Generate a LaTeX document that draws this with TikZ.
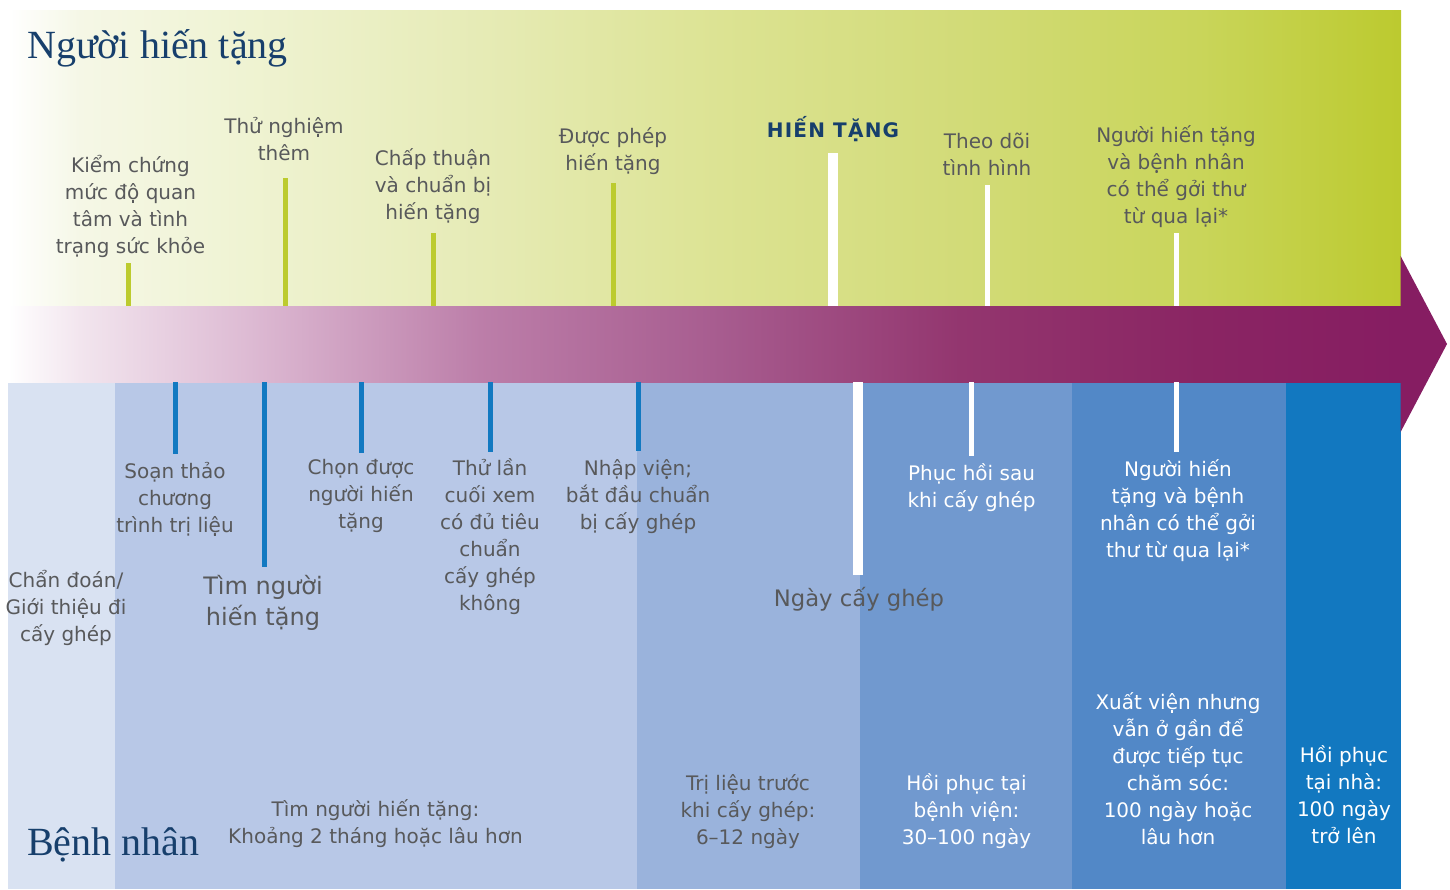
\documentclass[tikz,border=0pt]{standalone}
\usepackage{fontspec}
\setmainfont{DejaVu Sans}
\newfontfamily\titlefont{Liberation Serif}
\newfontfamily\spacedfont{DejaVu Sans}[LetterSpace=6]
\definecolor{txtgray}{HTML}{58595B}
\definecolor{navy}{HTML}{173F6C}
\definecolor{tickgreen}{HTML}{BCCB2E}
\definecolor{tickblue}{HTML}{1279C1}
\definecolor{colA}{HTML}{D9E2F2}
\definecolor{colB}{HTML}{B8C8E7}
\definecolor{colC}{HTML}{9AB3DC}
\definecolor{colD}{HTML}{7199CF}
\definecolor{colE}{HTML}{5288C7}
\definecolor{colF}{HTML}{1278C0}
\definecolor{gA}{HTML}{FFFFFF}
\definecolor{gB}{HTML}{F5F7E6}
\definecolor{gC}{HTML}{EFF3D2}
\definecolor{gD}{HTML}{E6EBB6}
\definecolor{gE}{HTML}{DCE393}
\definecolor{gF}{HTML}{D2DB78}
\definecolor{gG}{HTML}{C9D55A}
\definecolor{gH}{HTML}{BCCA2F}
\definecolor{pA}{HTML}{FFFFFF}
\definecolor{pB}{HTML}{F2E5EE}
\definecolor{pC}{HTML}{DDBAD3}
\definecolor{pD}{HTML}{BC7EA9}
\definecolor{pE}{HTML}{A75C8F}
\definecolor{pF}{HTML}{93366F}
\definecolor{pG}{HTML}{8A2563}
\definecolor{pH}{HTML}{861D62}
\tikzset{
  lbl/.style={font=\fontsize{20}{27}\selectfont, text=txtgray, align=center, inner sep=0pt, yshift=-2.5pt,
    execute at begin node={\rule{0pt}{20pt}}, execute at end node={\rule[-7pt]{0pt}{7pt}}},
  lblw/.style={lbl, text=white},
  biglbl/.style={font=\fontsize{24}{31}\selectfont, text=txtgray, align=center, inner sep=0pt, yshift=-1pt,
    execute at begin node={\rule{0pt}{23pt}}, execute at end node={\rule[-7pt]{0pt}{7pt}}},
  keylbl/.style={font=\spacedfont\bfseries\fontsize{20}{27}\selectfont, text=navy, inner sep=0pt, yshift=-1.5pt,
    execute at begin node={\rule{0pt}{20pt}}, execute at end node={\rule[-7pt]{0pt}{7pt}}},
  ttl/.style={font=\titlefont\fontsize{40}{44}\selectfont, text=navy, inner sep=0pt, anchor=base west},
  gtick/.style={draw=tickgreen, line width=5pt},
  btick/.style={draw=tickblue, line width=5pt},
  wtick/.style={draw=white, line width=5pt},
  wtickwide/.style={draw=white, line width=10pt},
  colbox/.style={fill=#1, draw=none},
}
\begin{document}
\begin{tikzpicture}[x=1pt,y=-1pt]
\useasboundingbox (0,0) rectangle (1450,889);
% top donor panel gradient
\foreach \xa/\xb/\ca/\cb in {8/80/gA/gB, 79.4/250/gB/gC, 249.4/480/gC/gD, 479.4/720/gD/gE, 719.4/960/gE/gF, 959.4/1200/gF/gG, 1199.4/1401/gG/gH}
  \shade[left color=\ca, right color=\cb] (\xa,10) rectangle (\xb,306);
% bottom patient columns
\fill[colbox=colA] (8,382) rectangle (115,889);
\fill[colbox=colB] (115,382) rectangle (637,889);
\fill[colbox=colC] (637,382) rectangle (860,889);
\fill[colbox=colD] (860,382) rectangle (1072,889);
\fill[colbox=colE] (1072,382) rectangle (1286,889);
\fill[colbox=colF] (1286,382) rectangle (1401,889);
% arrow band
\foreach \xa/\xb/\ca/\cb in {8/80/pA/pB, 79.4/250/pB/pC, 249.4/480/pC/pD, 479.4/720/pD/pE, 719.4/960/pE/pF, 959.4/1200/pF/pG, 1199.4/1401/pG/pH}
  \shade[left color=\ca, right color=\cb] (\xa,306) rectangle (\xb,382);
\fill[pH] (1400.6,256) -- (1447,344) -- (1400.6,432) -- cycle;
\coordinate (bandtop) at (0,306);
\coordinate (bandbot) at (0,382);
% titles
\node[ttl] (donor) at (27,58) {Người hiến tặng};
\node[ttl] (patient) at (27,855) {Bệnh nhân};
% top labels
\node[lbl] (k1) at (130.5,205) {Kiểm chứng\\mức độ quan\\tâm và tình\\trạng sức khỏe};
\node[lbl] (k2) at (284,140) {Thử nghiệm\\thêm};
\node[lbl] (k3) at (433,185) {Chấp thuận\\và chuẩn bị\\hiến tặng};
\node[lbl] (k4) at (613,150) {Được phép\\hiến tặng};
\node[keylbl] (k5) at (833,128.5) {HIẾN TẶNG};
\node[lbl] (k6) at (987,155) {Theo dõi\\tình hình};
\node[lbl] (k7) at (1176,176) {Người hiến tặng\\và bệnh nhân\\có thể gởi thư\\từ qua lại*};
% top ticks
\coordinate (t1) at (128,263);
\coordinate (t2) at (285,178);
\coordinate (t3) at (433,233);
\coordinate (t4) at (613,183);
\coordinate (t5) at (833,153);
\coordinate (t6) at (987,185);
\coordinate (t7) at (1176,233);
\draw[gtick] (t1) -- (t1 |- bandtop);
\draw[gtick] (t2) -- (t2 |- bandtop);
\draw[gtick] (t3) -- (t3 |- bandtop);
\draw[gtick] (t4) -- (t4 |- bandtop);
\draw[wtickwide] (t5) -- (t5 |- bandtop);
\draw[wtick] (t6) -- (t6 |- bandtop);
\draw[wtick] (t7) -- (t7 |- bandtop);
% bottom ticks
\coordinate (u1) at (175,454);
\coordinate (u2) at (264,567);
\coordinate (u3) at (361,453);
\coordinate (u4) at (490,452);
\coordinate (u5) at (638,451);
\coordinate (u6) at (858,575);
\coordinate (u7) at (971,456);
\coordinate (u8) at (1176,452);
\draw[btick] (u1 |- bandbot) -- (u1);
\draw[btick] (u2 |- bandbot) -- (u2);
\draw[btick] (u3 |- bandbot) -- (u3);
\draw[btick] (u4 |- bandbot) -- (u4);
\draw[btick] (u5 |- bandbot) -- (u5);
\draw[wtickwide] (u6 |- bandbot) -- (u6);
\draw[wtick] (u7 |- bandbot) -- (u7);
\draw[wtick] (u8 |- bandbot) -- (u8);
% bottom labels
\node[lbl] (b1) at (175,498) {Soạn thảo\\chương\\trình trị liệu};
\node[biglbl] (b2) at (263,602.5) {Tìm người\\hiến tặng};
\node[lbl] (b3) at (361,494.5) {Chọn được\\người hiến\\tặng};
\node[lbl] (b4) at (490,535.5) {Thử lần\\cuối xem\\có đủ tiêu\\chuẩn\\cấy ghép\\không};
\node[lbl] (b5) at (638,495) {Nhập viện;\\bắt đầu chuẩn\\bị cấy ghép};
\node[biglbl, font=\fontsize{22.7}{31}\selectfont] (b6) at (859,597) {Ngày cấy ghép};
\node[lblw] (b7) at (971.5,487) {Phục hồi sau\\khi cấy ghép};
\node[lblw] (b8) at (1178,510) {Người hiến\\tặng và bệnh\\nhân có thể gởi\\thư từ qua lại*};
\node[lbl] (b9) at (66,607) {Chẩn đoán/\\Giới thiệu đi\\cấy ghép};
% duration labels
\node[lbl] (d1) at (375.5,822.5) {Tìm người hiến tặng:\\Khoảng 2 tháng hoặc lâu hơn};
\node[lbl] (d2) at (748,810) {Trị liệu trước\\khi cấy ghép:\\6–12 ngày};
\node[lblw] (d3) at (966.5,810) {Hồi phục tại\\bệnh viện:\\30–100 ngày};
\node[lblw] (d4) at (1178,770) {Xuất viện nhưng\\vẫn ở gần để\\được tiếp tục\\chăm sóc:\\100 ngày hoặc\\lâu hơn};
\node[lblw] (d5) at (1344,796) {Hồi phục\\tại nhà:\\100 ngày\\trở lên};
\end{tikzpicture}
\end{document}
